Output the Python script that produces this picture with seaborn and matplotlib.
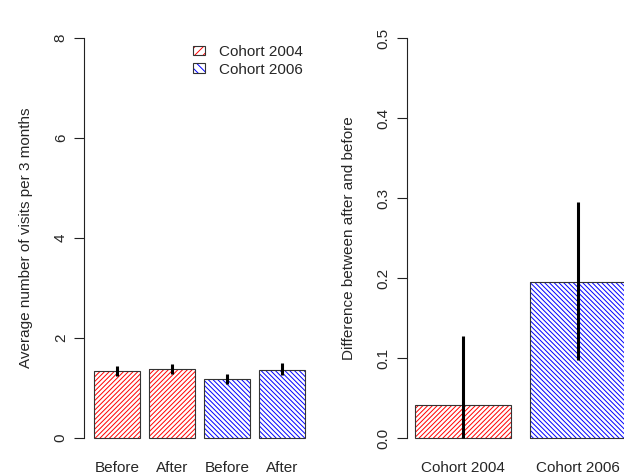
import matplotlib
matplotlib.use("Agg")
import matplotlib.pyplot as plt
from matplotlib.patches import Patch, Rectangle
from matplotlib.legend_handler import HandlerTuple
import seaborn as sns
import pandas as pd

# ---- data ----
left_bars = ['2004 Before', '2004 After', '2006 Before', '2006 After']
left_labels = ['Before', 'After', 'Before', 'After']
left_cohort = ['Cohort 2004', 'Cohort 2004', 'Cohort 2006', 'Cohort 2006']
left_means = [1.35, 1.38, 1.18, 1.37]
left_lower = [1.24, 1.28, 1.08, 1.26]
left_upper = [1.44, 1.49, 1.29, 1.50]

right_labels = ['Cohort 2004', 'Cohort 2006']
right_diff = [0.041, 0.195]
right_lower = [0.0, 0.098]
right_upper = [0.128, 0.295]

cohorts = ['Cohort 2004', 'Cohort 2006']
cohort_colors = {'Cohort 2004': '#FF0000', 'Cohort 2006': '#0000FF'}
cohort_hatch = {'Cohort 2004': '/' * 7, 'Cohort 2006': '\\' * 7}

sns.set_style("white")
plt.rcParams['font.family'] = ['Liberation Sans', 'DejaVu Sans']
plt.rcParams['hatch.linewidth'] = 0.7
FS = 11

fig = plt.figure(figsize=(6.24, 4.75), dpi=100)
ax1 = fig.add_axes([0.1353, 0.0442, 0.3673, 0.9095])
ax2 = fig.add_axes([0.6516, 0.0442, 0.3644, 0.9095])


def style_bars(ax, cohort_of_bar):
    # white fill, coloured hatch, dark outline (R barplot density look)
    bars = [p for c in ax.containers for p in c]
    bars.sort(key=lambda p: p.get_x())
    for p, coh in zip(bars, cohort_of_bar):
        p.set_facecolor('white')
        p.set_edgecolor(cohort_colors[coh])
        p.set_hatch(cohort_hatch[coh])
        p.set_linewidth(0)
        ax.add_patch(Rectangle(p.get_xy(), p.get_width(), p.get_height(),
                               fill=False, edgecolor='#333333', linewidth=0.8, zorder=3))


def style_axis(ax, ymax, ticks, fmt):
    for s in ['top', 'right', 'bottom']:
        ax.spines[s].set_visible(False)
    ax.spines['left'].set_bounds(0, ymax)
    ax.spines['left'].set_linewidth(0.8)
    ax.spines['left'].set_color('#222222')
    ax.set_ylim(-0.04 * ymax, 1.04 * ymax)
    ax.set_yticks(ticks)
    ax.set_yticklabels([fmt.format(t) for t in ticks], rotation=90, va='center', fontsize=FS)
    ax.tick_params(axis='y', length=7, width=0.8, color='#222222', pad=5, left=True)
    ax.tick_params(axis='x', length=0, pad=5, labelsize=FS)
    ax.set_xlabel('')


# ---- left panel ----
df_left = pd.DataFrame({'bar': left_bars, 'mean': left_means, 'cohort': left_cohort})
sns.barplot(data=df_left, x='bar', y='mean', hue='cohort', hue_order=cohorts,
            order=left_bars, dodge=False, width=1 / 1.2, errorbar=None,
            legend=False, ax=ax1)
style_bars(ax1, left_cohort)
ax1.vlines(range(len(left_bars)), left_lower, left_upper, color='black', linewidth=2.2, zorder=5)
ax1.set_xticks(range(len(left_bars)))
ax1.set_xticklabels(left_labels)
ax1.set_xlim(-0.597, 3.57)
style_axis(ax1, 8, [0, 2, 4, 6, 8], '{:g}')
ax1.set_ylabel('Average number of visits per 3 months', fontsize=FS, labelpad=15)

handles = []
for coh in cohorts:
    hp = Patch(facecolor='white', edgecolor=cohort_colors[coh], hatch=cohort_hatch[coh][:4], linewidth=0)
    op = Patch(facecolor='none', edgecolor='#333333', linewidth=0.8)
    handles.append((hp, op))
ax1.legend(handles, cohorts, handler_map={tuple: HandlerTuple(ndivide=1)},
           loc='upper left', bbox_to_anchor=(0.474, 0.947), frameon=False,
           fontsize=FS, handlelength=0.8, handleheight=0.6, handletextpad=0.9,
           labelspacing=0.25, borderpad=0, borderaxespad=0)

# ---- right panel ----
df_right = pd.DataFrame({'cohort': right_labels, 'diff': right_diff})
sns.barplot(data=df_right, x='cohort', y='diff', hue='cohort', hue_order=cohorts,
            order=right_labels, dodge=False, width=1 / 1.2, errorbar=None,
            legend=False, ax=ax2)
style_bars(ax2, right_labels)
ax2.vlines(range(len(right_labels)), right_lower, right_upper, color='black', linewidth=2.2, zorder=5)
ax2.set_xlim(-0.49, 1.49)
style_axis(ax2, 0.5, [0.0, 0.1, 0.2, 0.3, 0.4, 0.5], '{:.1f}')
ax2.set_ylabel('Difference between after and before', fontsize=FS, labelpad=14)

fig.savefig('out.png', dpi=100)
